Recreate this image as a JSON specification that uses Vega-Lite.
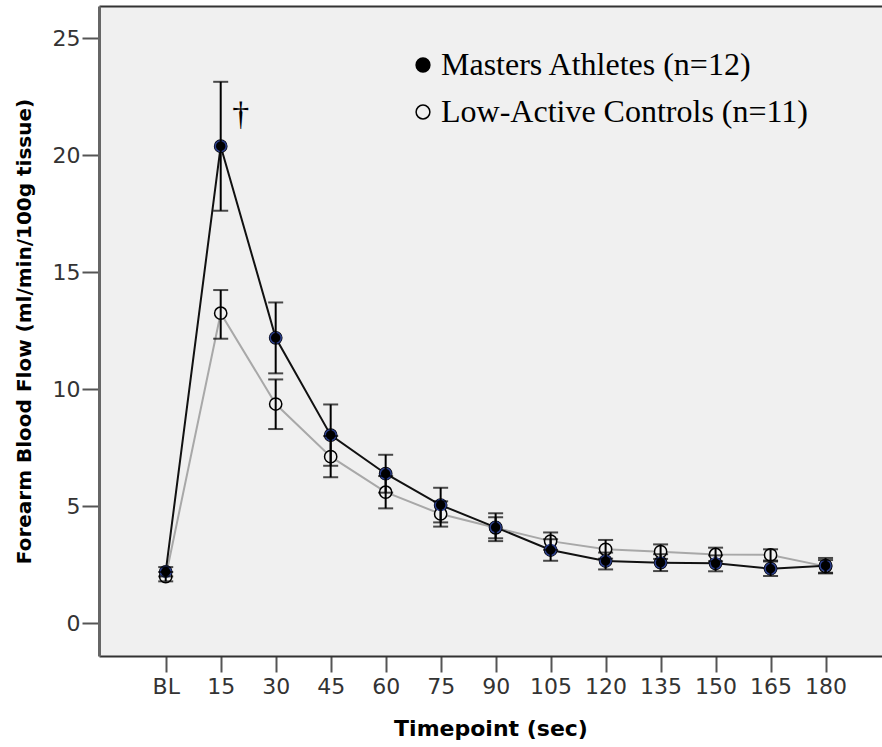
{
  "$schema": "https://vega.github.io/schema/vega-lite/v6.json",
  "width": 783,
  "height": 650,
  "autosize": {"type": "none"},
  "padding": {"left": 99, "top": 6, "right": 0, "bottom": 91},
  "background": "white",
  "config": {
    "view": {"fill": "#f0f0f0", "stroke": null},
    "axis": {"grid": false}
  },
  "data": {
    "values": [
      {"group": "Masters Athletes (n=12)", "t": 0, "mean": 2.19, "lo": 1.99, "hi": 2.39},
      {"group": "Masters Athletes (n=12)", "t": 15, "mean": 20.38, "lo": 17.62, "hi": 23.13},
      {"group": "Masters Athletes (n=12)", "t": 30, "mean": 12.19, "lo": 10.67, "hi": 13.7},
      {"group": "Masters Athletes (n=12)", "t": 45, "mean": 8.03, "lo": 6.72, "hi": 9.34},
      {"group": "Masters Athletes (n=12)", "t": 60, "mean": 6.38, "lo": 5.57, "hi": 7.19},
      {"group": "Masters Athletes (n=12)", "t": 75, "mean": 5.04, "lo": 4.3, "hi": 5.78},
      {"group": "Masters Athletes (n=12)", "t": 90, "mean": 4.09, "lo": 3.5, "hi": 4.69},
      {"group": "Masters Athletes (n=12)", "t": 105, "mean": 3.12, "lo": 2.66, "hi": 3.58},
      {"group": "Masters Athletes (n=12)", "t": 120, "mean": 2.65, "lo": 2.29, "hi": 3.01},
      {"group": "Masters Athletes (n=12)", "t": 135, "mean": 2.58, "lo": 2.22, "hi": 2.94},
      {"group": "Masters Athletes (n=12)", "t": 150, "mean": 2.55, "lo": 2.21, "hi": 2.89},
      {"group": "Masters Athletes (n=12)", "t": 165, "mean": 2.32, "lo": 2.01, "hi": 2.63},
      {"group": "Masters Athletes (n=12)", "t": 180, "mean": 2.45, "lo": 2.12, "hi": 2.78},
      {"group": "Low-Active Controls (n=11)", "t": 0, "mean": 1.98, "lo": 1.78, "hi": 2.18},
      {"group": "Low-Active Controls (n=11)", "t": 15, "mean": 13.24, "lo": 12.15, "hi": 14.23},
      {"group": "Low-Active Controls (n=11)", "t": 30, "mean": 9.36, "lo": 8.29, "hi": 10.41},
      {"group": "Low-Active Controls (n=11)", "t": 45, "mean": 7.11, "lo": 6.23, "hi": 7.99},
      {"group": "Low-Active Controls (n=11)", "t": 60, "mean": 5.59, "lo": 4.9, "hi": 6.28},
      {"group": "Low-Active Controls (n=11)", "t": 75, "mean": 4.66, "lo": 4.12, "hi": 5.2},
      {"group": "Low-Active Controls (n=11)", "t": 90, "mean": 4.07, "lo": 3.62, "hi": 4.52},
      {"group": "Low-Active Controls (n=11)", "t": 105, "mean": 3.5, "lo": 3.13, "hi": 3.87},
      {"group": "Low-Active Controls (n=11)", "t": 120, "mean": 3.15, "lo": 2.75, "hi": 3.55},
      {"group": "Low-Active Controls (n=11)", "t": 135, "mean": 3.05, "lo": 2.74, "hi": 3.36},
      {"group": "Low-Active Controls (n=11)", "t": 150, "mean": 2.93, "lo": 2.64, "hi": 3.22},
      {"group": "Low-Active Controls (n=11)", "t": 165, "mean": 2.91, "lo": 2.67, "hi": 3.15},
      {"group": "Low-Active Controls (n=11)", "t": 180, "mean": 2.42, "lo": 2.15, "hi": 2.69}
    ]
  },
  "resolve": {"axis": {"x": "independent"}},
  "layer": [
    {
      "encoding": {
        "x": {
          "field": "t", "type": "quantitative",
          "scale": {"domain": [-18.2, 195.4], "nice": false, "zero": false},
          "axis": {
            "orient": "bottom",
            "values": [0, 15, 30, 45, 60, 75, 90, 105, 120, 135, 150, 165, 180],
            "labelExpr": "datum.value == 0 ? 'BL' : datum.label",
            "domainColor": "#333333", "domainWidth": 2,
            "tickColor": "#555555", "tickWidth": 2, "tickSize": 16,
            "labelFont": "DejaVu Sans", "labelFontSize": 22, "labelColor": "#333333",
            "labelPadding": 4, "labelFlush": false, "labelOverlap": false,
            "title": "Timepoint (sec)",
            "titleFont": "DejaVu Sans", "titleFontWeight": "bold", "titleFontSize": 22,
            "titleColor": "black", "titlePadding": 21
          }
        },
        "y": {
          "type": "quantitative",
          "scale": {"domain": [-1.41, 26.37], "nice": false, "zero": false},
          "axis": {
            "values": [0, 5, 10, 15, 20, 25],
            "domainColor": "#666666", "domainWidth": 3,
            "tickColor": "#555555", "tickWidth": 2, "tickSize": 17,
            "labelFont": "DejaVu Sans", "labelFontSize": 22, "labelColor": "#333333",
            "labelPadding": 2, "labelFlush": false,
            "title": "Forearm Blood Flow (ml/min/100g tissue)",
            "titleFont": "DejaVu Sans", "titleFontWeight": "bold", "titleFontSize": 20,
            "titleColor": "black", "titlePadding": 18
          }
        }
      },
      "layer": [
        {
          "transform": [{"filter": "indexof(datum.group, 'Low') == 0"}],
          "mark": {"type": "line", "strokeWidth": 2, "color": "#a8a8a8"},
          "encoding": {"y": {"field": "mean"}}
        },
        {
          "transform": [{"filter": "indexof(datum.group, 'Masters') == 0"}],
          "mark": {"type": "line", "strokeWidth": 2, "color": "#111111"},
          "encoding": {"y": {"field": "mean"}}
        },
        {
          "mark": {"type": "point", "filled": true, "size": 150, "shape": "circle", "stroke": "black", "strokeWidth": 1.5, "opacity": 1},
          "encoding": {
            "y": {"field": "mean"},
            "fill": {
              "field": "group", "type": "nominal",
              "scale": {"domain": ["Masters Athletes (n=12)", "Low-Active Controls (n=11)"], "range": ["black", "#f0f0f0"]},
              "legend": {
                "title": null, "orient": "none", "legendX": 308, "legendY": 43,
                "padding": 0, "symbolType": "circle", "symbolSize": 190,
                "symbolStrokeColor": "black", "symbolStrokeWidth": 1.5,
                "labelFont": "Liberation Serif", "labelFontSize": 32, "labelColor": "black",
                "labelOffset": 2, "rowPadding": 15, "labelLimit": 500
              }
            }
          }
        },
        {
          "transform": [{"filter": "indexof(datum.group, 'Masters') == 0"}],
          "mark": {"type": "point", "filled": true, "size": 120, "shape": "circle", "fill": "black", "stroke": "#2c3f8c", "strokeWidth": 1.5, "opacity": 1},
          "encoding": {"y": {"field": "mean"}}
        },
        {
          "mark": {"type": "errorbar", "color": "black", "ticks": {"size": 15, "thickness": 2, "color": "black"}, "rule": {"strokeWidth": 2, "color": "black"}},
          "encoding": {
            "y": {"field": "lo", "type": "quantitative", "title": "Forearm Blood Flow (ml/min/100g tissue)"},
            "y2": {"field": "hi"},
            "detail": {"field": "group"}
          }
        }
      ]
    },
    {
      "transform": [{"filter": "datum.t == 15 && indexof(datum.group, 'Masters') == 0"}],
      "mark": {"type": "text", "text": "†", "font": "Liberation Serif", "fontSize": 34, "color": "black", "dx": 20, "dy": 33},
      "encoding": {
        "x": {
          "field": "t", "type": "quantitative",
          "scale": {"domain": [-18.2, 195.4], "nice": false, "zero": false},
          "axis": {"orient": "top", "labels": false, "ticks": false, "title": null, "domainColor": "#333333", "domainWidth": 2}
        },
        "y": {"field": "hi", "type": "quantitative"}
      }
    }
  ]
}
